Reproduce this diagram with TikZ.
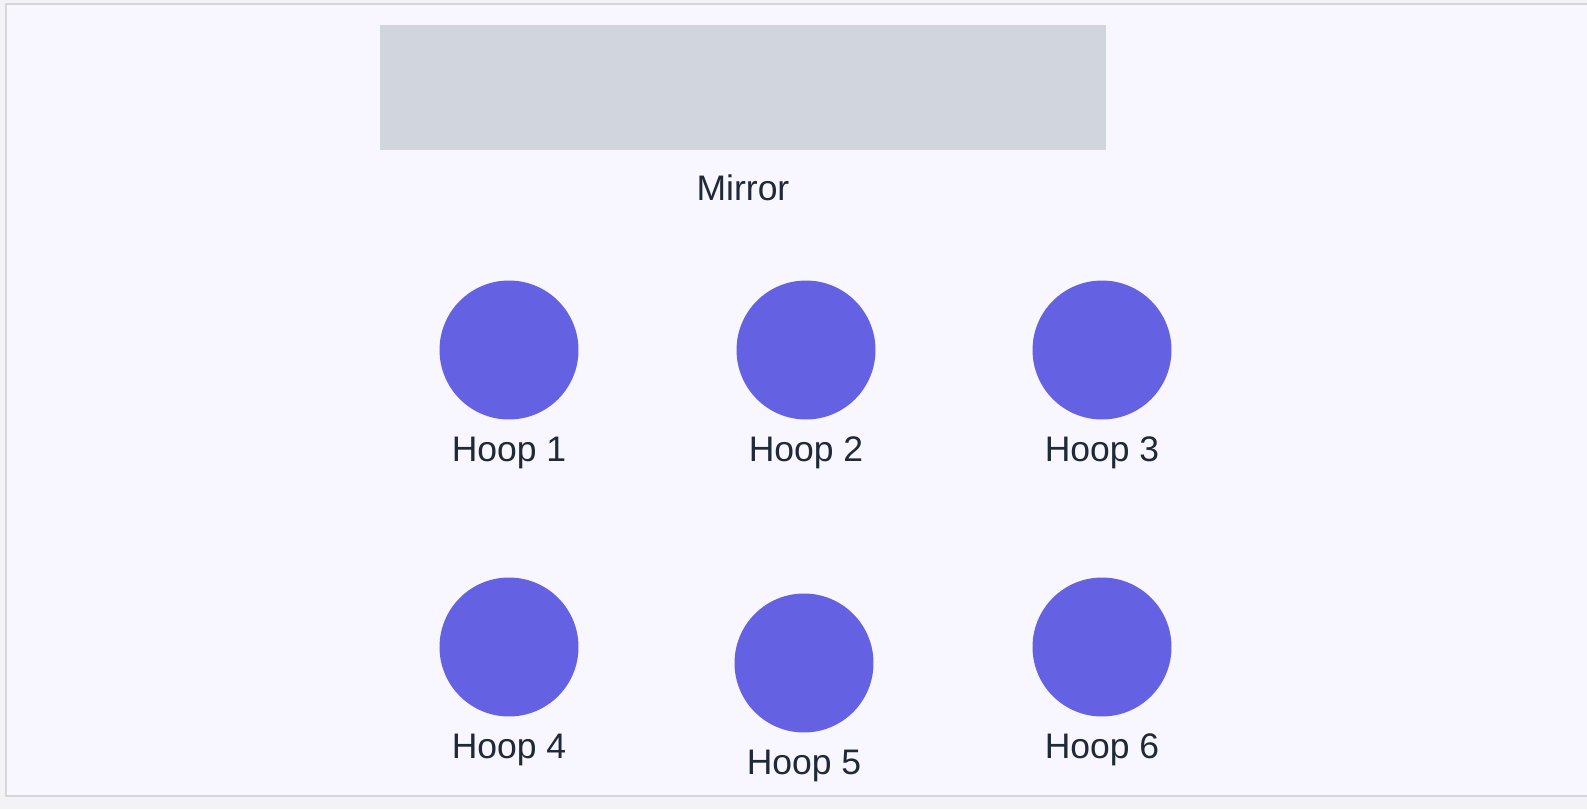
\documentclass[tikz,border=0pt]{standalone}
\usepackage{fontspec}
\setmainfont{Liberation Sans}
\usepackage{tikz}
\usetikzlibrary{positioning}
\definecolor{pagebg}{RGB}{243,243,245}
\definecolor{roombg}{RGB}{248,246,254}
\definecolor{roomline}{RGB}{214,214,220}
\definecolor{mirrorgray}{RGB}{209,213,221}
\definecolor{hoopblue}{RGB}{100,98,226}
\definecolor{labeltext}{RGB}{31,41,55}

\begin{document}
\begin{tikzpicture}[x=0.02cm,y=-0.02cm,
		hoop/.style = {circle,fill = hoopblue,inner sep = 0pt,minimum size = 2.78cm},
		tag/.style = {inner sep = 0pt,text = labeltext,font = \fontsize{20.2}{24}\selectfont}]
		\useasboundingbox[fill = pagebg] (0,0) rectangle (1587,809);
		\draw[fill = roombg,draw = roomline,line width = 1.2pt] (6,4) rectangle (1595,796);
		\node[fill = mirrorgray,rectangle,inner sep = 0pt,minimum width = 14.52cm,minimum height = 2.5cm] at (743,87.5) (mirror) {};
		\node[tag,below = 0.48cm of mirror] (m) {Mirror};
		\node[hoop] at (509,350) (h1) {};
		\node[hoop] at (806,350) (h2) {};
		\node[hoop] at (1102,350) (h3) {};
		\node[hoop] at (509,647) (h4) {};
		\node[hoop] at (804,663) (h5) {};
		\node[hoop] at (1102,647) (h6) {};
		\node[tag,below = 0.34cm of h1] (l1) {Hoop 1};
		\node[tag,below = 0.34cm of h2] (l2) {Hoop 2};
		\node[tag,below = 0.34cm of h3] (l3) {Hoop 3};
		\node[tag,below = 0.34cm of h4] (l4) {Hoop 4};
		\node[tag,below = 0.34cm of h5] (l5) {Hoop 5};
		\node[tag,below = 0.34cm of h6] (l6) {Hoop 6};
	\end{tikzpicture}
\end{document}
